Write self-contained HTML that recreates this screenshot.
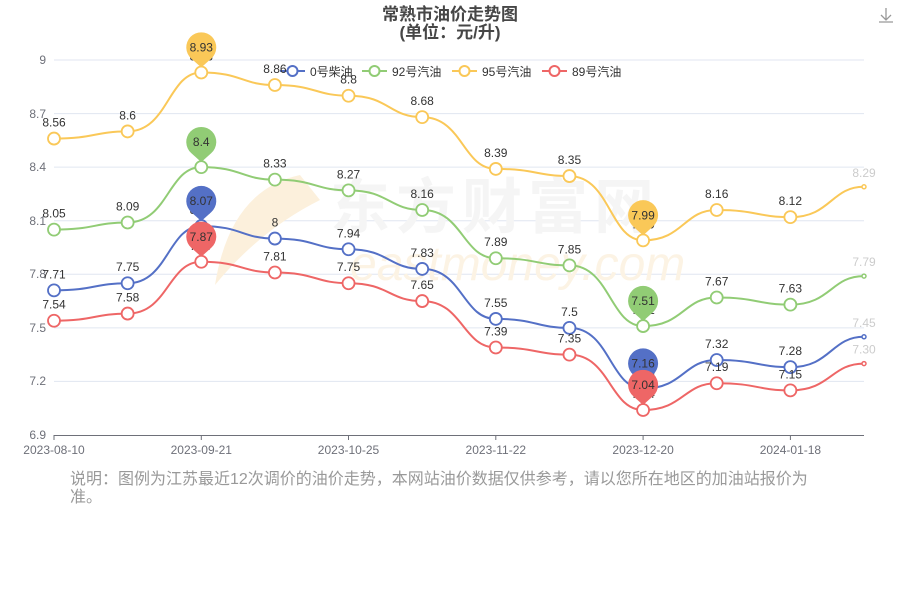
<!DOCTYPE html>
<html><head><meta charset="utf-8"><style>
body{margin:0;background:#fff;width:900px;height:600px;overflow:hidden;font-family:"Liberation Sans","Noto Sans CJK SC",sans-serif}
</style></head><body>
<svg id="s" width="900" height="600" xmlns="http://www.w3.org/2000/svg" font-family="Liberation Sans, Noto Sans CJK SC, sans-serif">
<text x="450" y="20" text-anchor="middle" font-size="17" font-weight="bold" fill="#464646">常熟市油价走势图</text>
<text x="450" y="38" text-anchor="middle" font-size="17" font-weight="bold" fill="#464646">(单位：元/升)</text>
<g stroke="#e0e6f1" stroke-width="1">
<line x1="54" x2="864" y1="60" y2="60"/><line x1="54" x2="864" y1="113.6" y2="113.6"/><line x1="54" x2="864" y1="167.1" y2="167.1"/><line x1="54" x2="864" y1="220.7" y2="220.7"/><line x1="54" x2="864" y1="274.3" y2="274.3"/><line x1="54" x2="864" y1="327.9" y2="327.9"/><line x1="54" x2="864" y1="381.4" y2="381.4"/>
</g>
<line x1="54" x2="864" y1="435.5" y2="435.5" stroke="#6e7079"/>
<g stroke="#6e7079"><line x1="54" x2="54" y1="435" y2="440"/><line x1="201.3" x2="201.3" y1="435" y2="440"/><line x1="348.5" x2="348.5" y1="435" y2="440"/><line x1="495.8" x2="495.8" y1="435" y2="440"/><line x1="643.1" x2="643.1" y1="435" y2="440"/><line x1="790.4" x2="790.4" y1="435" y2="440"/></g>
<g font-size="12" fill="#6e7079" text-anchor="end">
<text x="46" y="64">9</text><text x="46" y="118">8.7</text><text x="46" y="171">8.4</text><text x="46" y="225">8.1</text><text x="46" y="278">7.8</text><text x="46" y="332">7.5</text><text x="46" y="385">7.2</text><text x="46" y="439">6.9</text>
</g>
<g font-size="12" fill="#6e7079" text-anchor="middle">
<text x="54" y="454">2023-08-10</text><text x="201.3" y="454">2023-09-21</text><text x="348.5" y="454">2023-10-25</text><text x="495.8" y="454">2023-11-22</text><text x="643.1" y="454">2023-12-20</text><text x="790.4" y="454">2024-01-18</text>
</g>
<path d="M300 175 Q230 190 215 285 Q260 230 320 200 Z" fill="#fcf0dc"/>
<text x="330" y="228" font-size="60" font-weight="bold" fill="#f5f5f5" letter-spacing="6">东方财富网</text>
<text x="350" y="280" font-size="48" font-style="italic" fill="#fcf3e4">eastmoney.com</text>
<g id="legend" font-size="12" fill="#333"></g>
<g id="plot"></g>
<text x="70" y="484" font-size="16" fill="#999">说明：图例为江苏最近12次调价的油价走势，本网站油价数据仅供参考，请以您所在地区的加油站报价为</text>
<text x="70" y="502" font-size="16" fill="#999">准。</text>
<g stroke="#999" fill="none" stroke-width="1.3"><path d="M886 8v12M881 15l5 5 5-5M879 22h14"/></g>
</svg>
<script>
var X=[];for(var i=0;i<12;i++)X.push(54+i*73.636);
function Y(v){return 60+(9-v)*178.571;}
var S=[
{n:"0号柴油",c:"#5470c6",d:[7.71,7.75,8.07,8,7.94,7.83,7.55,7.5,7.16,7.32,7.28,7.45]},
{n:"92号汽油",c:"#91cc75",d:[8.05,8.09,8.4,8.33,8.27,8.16,7.89,7.85,7.51,7.67,7.63,7.79]},
{n:"95号汽油",c:"#fac858",d:[8.56,8.6,8.93,8.86,8.8,8.68,8.39,8.35,7.99,8.16,8.12,8.29]},
{n:"89号汽油",c:"#ee6666",d:[7.54,7.58,7.87,7.81,7.75,7.65,7.39,7.35,7.04,7.19,7.15,7.30]}];
var ns="http://www.w3.org/2000/svg",P=document.getElementById("plot"),L=document.getElementById("legend");
function el(t,a,p){var e=document.createElementNS(ns,t);for(var k in a)e.setAttribute(k,a[k]);(p||P).appendChild(e);return e;}
var lx=[280,362,452,542];
S.forEach(function(s,k){
 var x=lx[k];el("line",{x1:x,x2:x+25,y1:71,y2:71,stroke:s.c,"stroke-width":2},L);
 el("circle",{cx:x+12.5,cy:71,r:5,fill:"#fff",stroke:s.c,"stroke-width":2},L);
 var t=el("text",{x:x+30,y:76},L);t.textContent=s.n;
});
S.forEach(function(s){
 var d="M"+X[0]+" "+Y(s.d[0]);
 for(var i=1;i<12;i++){var x0=X[i-1],x1=X[i],y0=Y(s.d[i-1]),y1=Y(s.d[i]),w=x1-x0;
  d+=" C"+(x0+w*0.55)+" "+y0+" "+(x1-w*0.45)+" "+y1+" "+x1+" "+y1;}
 el("path",{d:d,fill:"none",stroke:s.c,"stroke-width":2});
});
S.forEach(function(s){
 for(var i=0;i<12;i++){
  var x=X[i],y=Y(s.d[i]);
  if(i==11){el("circle",{cx:x,cy:y,r:2,fill:"#fff",stroke:s.c,"stroke-width":1.5});
   var t=el("text",{x:x,y:y-10,"font-size":12,fill:"#ccc","text-anchor":"middle"});t.textContent=s.d[i]==7.3?"7.30":s.d[i];}
  else{el("circle",{cx:x,cy:y,r:6,fill:"#fff",stroke:s.c,"stroke-width":1.8});
   var t=el("text",{x:x,y:y-12,"font-size":12,fill:"#333","text-anchor":"middle"});t.textContent=s.d[i];}
 }
});
S.forEach(function(s){
 [2,8].forEach(function(i){
  var x=X[i],y=Y(s.d[i]),cy=y-25;
  el("path",{d:"M"+x+" "+(y-5)+" L"+(x-10)+" "+(cy+11)+" A15 15 0 1 1 "+(x+10)+" "+(cy+11)+" Z",fill:s.c});
  var t=el("text",{x:x,y:cy+4,"font-size":12,fill:"#333","text-anchor":"middle"});t.textContent=s.d[i];
 });
});
</script>
</body></html>
